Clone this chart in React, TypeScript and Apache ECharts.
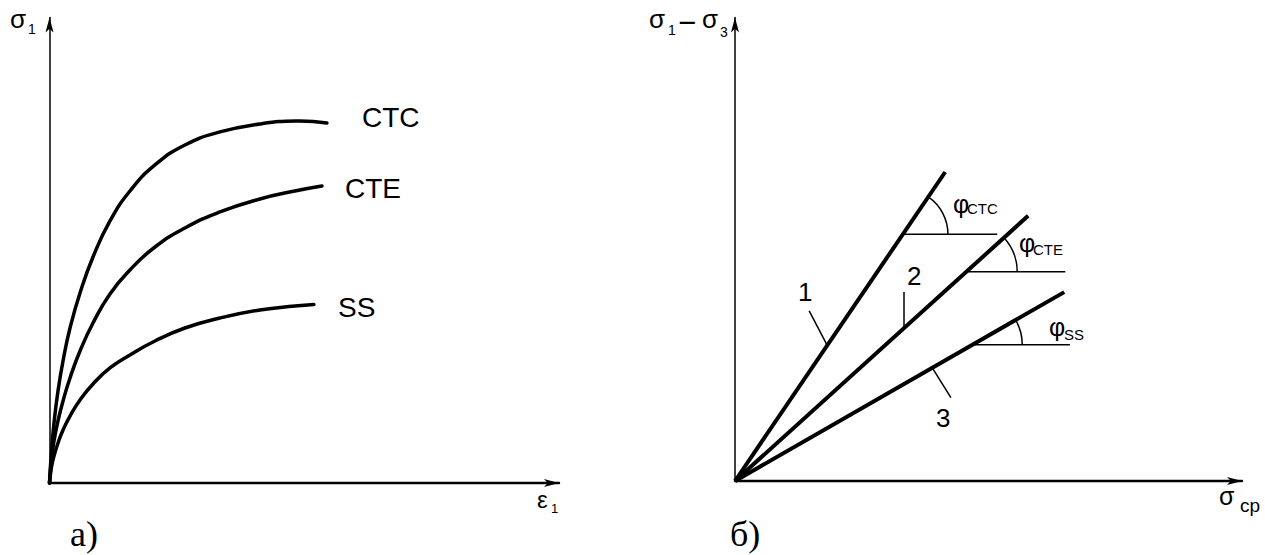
import { useEffect, useRef } from "react";
import * as echarts from "echarts";

// ---- Panel а): σ1 against ε1 for three loading paths ----
const ctcCurve: number[][] = [
  [0, 0], [0.39, 6.77], [0.87, 12.68], [1.64, 19.45], [2.61, 25.79], [3.96, 32.77],
  [5.89, 40.17], [8.4, 47.78], [11.68, 55.39], [15.54, 61.73], [20.37, 67.23],
  [26.16, 71.46], [32.92, 74.21], [40.64, 75.9], [47.78, 76.53], [53.57, 76.11],
];
const cteCurve: number[][] = [
  [0, 0], [0.39, 5.07], [0.87, 8.88], [1.64, 13.11], [2.61, 17.34], [3.96, 22.2],
  [5.89, 27.91], [8.4, 33.83], [11.68, 39.96], [15.54, 45.03], [20.37, 49.89],
  [26.16, 53.91], [32.92, 57.29], [40.64, 60.04], [47.39, 61.73], [52.61, 62.79],
];
const ssCurve: number[][] = [
  [0, 0], [0.39, 3.38], [0.87, 5.71], [1.64, 8.46], [2.61, 11.21], [3.96, 14.16],
  [5.89, 17.55], [8.4, 20.93], [11.68, 24.31], [15.54, 27.06], [20.37, 30.02],
  [26.16, 32.77], [32.92, 34.88], [40.64, 36.58], [47.39, 37.42], [51.06, 37.74],
];

// ---- Panel б): σ1 − σ3 against σср, straight envelopes 1, 2, 3 ----
const envelopeEnds: number[][] = [
  [40.8, 65.6], // 1 — CTC
  [56.9, 56.3], // 2 — CTE
  [63.9, 40.1], // 3 — SS
];
// height and right end of the short horizontal used to mark each angle φ
const angleLevel = [52.4, 44.4, 28.9];
const angleRefEnd = [50.9, 64.1, 65.0];
// leader lines from the numbers to their envelopes
const leaders: number[][][] = [
  [[14.4, 36.1], [17.9, 28.8]],
  [[32.8, 40.1], [32.8, 32.5]],
  [[38.3, 24.0], [41.9, 17.7]],
];

const AXIS_MAX = 98.4;
const ARC_RADIUS = [45, 51, 50];
const SANS = '"Liberation Sans", Arial, sans-serif';
const SERIF = '"Liberation Serif", "Times New Roman", serif';

function txt(text: string, x: number, base: number, size: number, family = SANS) {
  return {
    type: "text",
    x,
    y: base - 0.35 * size,
    silent: true,
    style: {
      text,
      fill: "#000",
      font: `${size}px ${family}`,
      align: "left",
      verticalAlign: "middle",
    },
  };
}

function axisPair(grid: number) {
  const line = {
    show: true,
    onZero: true,
    symbol: ["none", "arrow"],
    symbolSize: [6, 15],
    lineStyle: { color: "#000", width: 1.5 },
  };
  const common = {
    type: "value",
    gridIndex: grid,
    min: 0,
    max: AXIS_MAX,
    axisTick: { show: false },
    axisLabel: { show: false },
    splitLine: { show: false },
  };
  return {
    x: { ...common, axisLine: { ...line, lineStyle: { color: "#000", width: 2.4 } } },
    y: { ...common, axisLine: line },
  };
}

export default function App() {
  const ref = useRef<HTMLDivElement>(null);

  useEffect(() => {
    if (!ref.current) return;
    const chart = echarts.init(ref.current, undefined, { renderer: "svg" });
    const a = axisPair(0);
    const b = axisPair(1);

    // each curve is one smooth polyline through its points, placed by the axes
    const curve = (data: number[][]) => ({
      type: "custom",
      xAxisIndex: 0,
      yAxisIndex: 0,
      silent: true,
      data,
      renderItem: (params: any, api: any) => {
        if (params.dataIndexInside !== 0) return null;
        const pts: number[][] = [];
        for (let j = 0; j < params.dataInsideLength; j++) {
          pts.push(api.coord([api.value(0, j), api.value(1, j)]));
        }
        return {
          type: "polyline",
          shape: { points: pts, smooth: 0.5 },
          style: { fill: "none", stroke: "#000", lineWidth: 3.5, lineCap: "round" },
        };
      },
    });
    const seg = (data: number[][], width: number) => ({
      type: "line",
      xAxisIndex: 1,
      yAxisIndex: 1,
      data,
      showSymbol: false,
      silent: true,
      lineStyle: { color: "#000", width },
    });

    const crossX = envelopeEnds.map((e, i) => (e[0] * angleLevel[i]) / e[1]);

    chart.setOption({
      animation: false,
      backgroundColor: "#fff",
      grid: [
        { left: 49.5, bottom: 72, width: 509.5, height: 465.5, outerBoundsMode: "none" },
        { left: 735, bottom: 74, width: 507, height: 463.5, outerBoundsMode: "none" },
      ],
      xAxis: [a.x, b.x],
      yAxis: [a.y, b.y],
      series: [
        curve(ctcCurve),
        curve(cteCurve),
        curve(ssCurve),
        ...envelopeEnds.map((e) => seg([[0, 0], e], 4)),
        ...angleLevel.map((lv, i) => seg([[crossX[i], lv], [angleRefEnd[i], lv]], 1.5)),
        ...leaders.map((l) => seg(l, 1.5)),
        {
          type: "custom",
          xAxisIndex: 1,
          yAxisIndex: 1,
          silent: true,
          data: angleLevel.map((lv, i) => [crossX[i], lv, envelopeEnds[i][0], envelopeEnds[i][1]]),
          renderItem: (params: any, api: any) => {
            const c = api.coord([api.value(0), api.value(1)]);
            const o = api.coord([0, 0]);
            const e = api.coord([api.value(2), api.value(3)]);
            const ang = Math.atan2(e[1] - o[1], e[0] - o[0]);
            return {
              type: "arc",
              shape: {
                cx: c[0],
                cy: c[1],
                r: ARC_RADIUS[params.dataIndex],
                startAngle: ang,
                endAngle: 0,
                clockwise: true,
              },
              style: { fill: "none", stroke: "#000", lineWidth: 1.5 },
            };
          },
        },
      ],
      graphic: [
        // panel а)
        txt("σ", 10, 28, 26),
        txt("1", 28, 34, 14),
        txt("ε", 537, 508, 24),
        txt("1", 551, 513, 13),
        txt("CTC", 362, 127, 28),
        txt("CTE", 345, 198, 28),
        txt("SS", 338, 317, 28),
        txt("а)", 70, 547, 36, SERIF),
        // panel б)
        txt("σ", 649, 28, 26),
        txt("1", 668, 35, 14),
        txt("−", 678, 33, 31),
        txt("σ", 702, 28, 26),
        txt("3", 720, 37, 14),
        txt("σ", 1219, 505, 25),
        txt("ср", 1240, 512, 19),
        txt("б)", 730, 547, 36, SERIF),
        txt("1", 798, 301, 26),
        txt("2", 907, 285, 26),
        txt("3", 936, 427, 26),
        txt("φ", 953, 213, 25),
        txt("CTC", 967, 214, 15),
        txt("φ", 1019, 252, 25),
        txt("CTE", 1033, 255, 15),
        txt("φ", 1049, 336, 25),
        txt("SS", 1064, 340, 15),
      ],
    });
    return () => chart.dispose();
  }, []);

  return (
    <div
      ref={ref}
      style={{ position: "absolute", left: 0, top: 0, width: 1265, height: 555, background: "#fff" }}
    />
  );
}
